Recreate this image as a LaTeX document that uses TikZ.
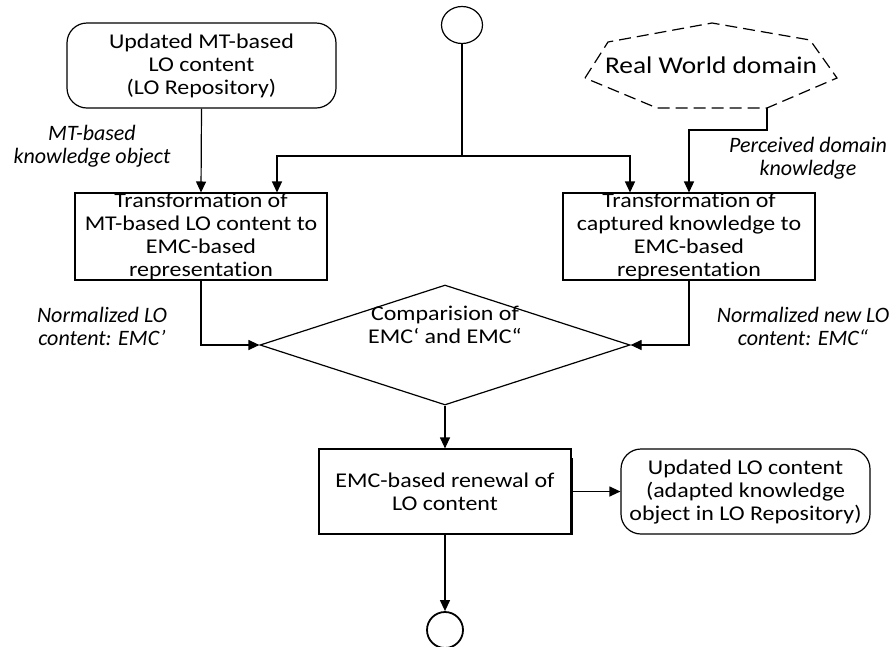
\documentclass[tikz,border=0pt]{standalone}
\usepackage{fontspec}
\setmainfont{Carlito}[FakeStretch=1.14,Ligatures=NoCommon]
\newfontfamily\notefont{Carlito}[Ligatures=NoCommon]
\usetikzlibrary{arrows.meta,shapes.geometric}
\begin{document}
\begin{tikzpicture}[x=1pt,y=-1pt,
  font=\fontsize{21}{23}\selectfont,
  line width=1.2pt,
  arr/.style={-{Triangle[length=11pt,width=10pt]}},
  procbox/.style={draw,minimum width=252pt,minimum height=86pt,align=center,inner sep=0pt},
  storebox/.style={draw,rounded corners=20pt,minimum height=85pt,align=center,inner sep=0pt},
  note/.style={font=\notefont\fontsize{22}{23}\selectfont\itshape,align=center}]

\useasboundingbox (0,0) rectangle (894,646);

% start and end markers
\node[draw,ellipse,minimum width=41pt,minimum height=37pt,inner sep=0pt] (start) at (462,25) {};
\node[draw,circle,minimum size=36pt,inner sep=0pt,line width=1.8pt] (end) at (445,630) {};

% repository, process boxes
\node[storebox,minimum width=269pt] (lorepo) at (201.5,65.5) {Updated MT-based\\LO content\\(LO Repository)};
\node[procbox] (trmt) at (201,236.5) {Transformation of\\MT-based LO content to\\EMC-based\\representation};
\node[procbox] (trcap) at (689,236.5) {Transformation of\\captured knowledge to\\EMC-based\\representation};

% real world domain (dashed outline)
\draw[dash pattern=on 12pt off 6pt] (585,78) -- (608,42) -- (712,23) -- (810,40) -- (837,78) -- (767,108) -- (657,108) -- cycle;
\coordinate (rwb) at (767,108);
\node[font=\fontsize{24}{26}\selectfont] (rw) at (711,65) {Real World domain};

% comparison decision
\node[draw,diamond,aspect=3.08,minimum width=370pt,minimum height=120pt,inner sep=0pt] (cmp) at (445,345) {};
\node[align=center] (cmpt) at (445,325) {Comparision of\\EMC‘ and EMC“};

% renewal and result
\node[procbox,minimum height=85pt] (renew) at (445,491.5) {EMC-based renewal of\\LO content};
\draw[line width=2.6pt] ([yshift=-10pt]renew.north east) -- (renew.south east);
\node[storebox,minimum width=249pt] (updlo) at (745.5,491.5) {Updated LO content\\(adapted knowledge\\object in LO Repository)};

% connectors
\coordinate (split) at (462,156);
\draw[arr] (lorepo.south) -- (trmt.north);
\draw (start.south) -- (split);
\draw[arr] (split) -| ([xshift=76pt]trmt.north);
\draw[arr] (split) -| ([xshift=-59pt]trcap.north);
\draw[arr] (rwb) -- ++(0,22) -| (trcap.north);
\draw[arr] (trmt.south) |- (cmp.west);
\draw[arr] (trcap.south) |- (cmp.east);
\draw[arr] (cmp.south) -- (renew.north);
\draw[arr] (renew.east) -- (updlo.west);
\draw[arr] (renew.south) -- (end.north);

% connector labels
\node[note] (lmt) at (92,146) {MT-based\\knowledge object};
\node[note] (lpd) at (808,158) {Perceived domain\\knowledge};
\node[note] (lnl) at (102,326) {Normalized LO\\content: EMC’};
\node[note] (lnn) at (803,326) {Normalized new LO\\content: EMC“};
\end{tikzpicture}
\end{document}
